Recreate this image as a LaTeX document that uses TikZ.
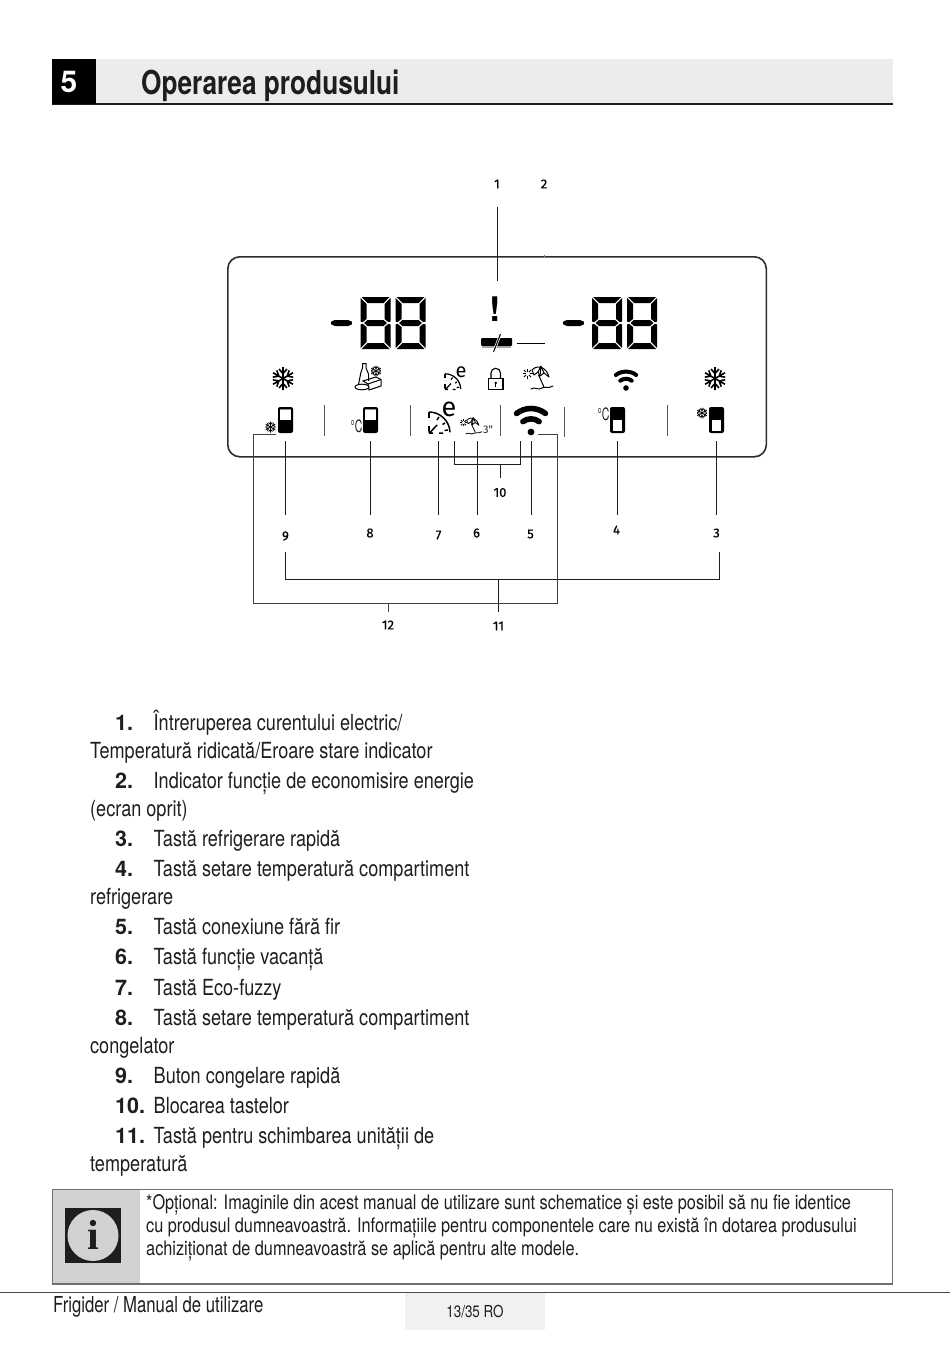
\documentclass[tikz,border=0pt]{standalone}
\usepackage{fontspec}
\setmainfont{TeX Gyre Heros}
\newfontfamily\condf[FakeStretch=0.815]{TeX Gyre Heros}
\newfontfamily\condg[FakeStretch=0.76]{TeX Gyre Heros}
\newfontfamily\condh[FakeStretch=0.795]{TeX Gyre Heros}
\newfontfamily\condi[FakeStretch=0.62]{TeX Gyre Heros}
\newfontfamily\wide{TeX Gyre Heros}
\newfontfamily\din[FakeBold=0.6]{Fira Sans}
\newfontfamily\dinr{Fira Sans}
\definecolor{band}{HTML}{ECECEC}
\definecolor{framec}{HTML}{2E2E2E}
\definecolor{notegray}{HTML}{D2D2D2}
\definecolor{notefr}{HTML}{707070}
\definecolor{pageb}{HTML}{F1F1F1}
\definecolor{ink}{HTML}{1E1E1E}
\tikzset{
 body/.style={anchor=base west,inner sep=0pt,font=\condf\fontsize{22.2}{24}\selectfont,text=ink},
 num/.style={anchor=base west,inner sep=0pt,font=\wide\bfseries\fontsize{21.5}{24}\selectfont,text=ink},
 notet/.style={anchor=base west,inner sep=0pt,font=\condf\fontsize{20}{22}\selectfont,text=ink},
 lab/.style={inner sep=0pt,font=\din\fontsize{13}{14}\selectfont,text=black},
 lead/.style={draw=ink,line width=1pt},
 sep/.style={draw=black!65,line width=1pt},
 small/.style={inner sep=0pt,font=\condi\fontsize{17}{18}\selectfont,text=ink}
}
\newcommand\SegDigit[2]{\begin{scope}[shift={(#1,#2)}]
 \fill[black] (1,0)--(29,0)--(23,6)--(7,6)--cycle;
 \fill[black] (1,52)--(29,52)--(23,46)--(7,46)--cycle;
 \fill[black] (3.5,26)--(7,23)--(23,23)--(26.5,26)--(23,29)--(7,29)--cycle;
 \fill[black] (0,1)--(6,7)--(6,22)--(2,25.2)--(0,24.5)--cycle;
 \fill[black] (0,51)--(6,45)--(6,30)--(2,26.8)--(0,27.5)--cycle;
 \fill[black] (30,1)--(24,7)--(24,22)--(28,25.2)--(30,24.5)--cycle;
 \fill[black] (30,51)--(24,45)--(24,30)--(28,26.8)--(30,27.5)--cycle;
\end{scope}}
\newcommand\Flake[4]{\begin{scope}[shift={(#1,#2)}]
 \foreach \a in {30,90,...,330}{
  \draw[black,line width=#4,rotate=\a,scale=#3] (0,0)--(1,0) (0.42,0)--(0.82,0.34) (0.42,0)--(0.82,-0.34);}
\end{scope}}
\newcommand\FridgeB[2]{\begin{scope}[shift={(#1,#2)}]
 \fill[black,rounded corners=2pt] (0,0) rectangle (15,26);
 \fill[white] (2.2,2.2) rectangle (12.8,12.5);
 \fill[black!45] (2.2,2.2) rectangle (12.8,3);
\end{scope}}
\newcommand\FridgeT[2]{\begin{scope}[shift={(#1,#2)}]
 \fill[black,rounded corners=2pt] (0,0) rectangle (15,26);
 \fill[white] (2.6,13) rectangle (12.4,23.8);
\end{scope}}
\newcommand\Wifi[5]{\begin{scope}[shift={(#1,#2)}]
 \fill[black] (0,0) circle (#5);
 \draw[black,line width=#4,line cap=round] (-52:#3) arc[start angle=-52,end angle=-128,radius=#3];
 \pgfmathsetmacro\rb{#3*0.56}
 \draw[black,line width=#4,line cap=round] (-52:\rb) arc[start angle=-52,end angle=-128,radius=\rb];
\end{scope}}
\newcommand\Clock[4]{\begin{scope}[shift={(#1,#2)},scale=#3]
 \draw[black,line width=#4] (0,-21) arc[start angle=-90,end angle=-2,radius=21];
 \draw[black,line width=#4] (0,-21)--(0,-15) (0,-7)--(0,-2);
 \draw[black,line width=#4] (0,0)--(4,0) (1,-0.5)--(8,-8) (0,-0.5)--(0,-5);
 \draw[black,line width=#4] (10,-16)--(8,-13) (16,-10)--(13.5,-8.5) (19,-3)--(15.5,-2.5) (10,0)--(14,0);
\end{scope}}
\newcommand\Umb[4]{\begin{scope}[shift={(#1,#2)},scale=#3]
 \draw[black,line width=#4,line join=round] (-6,-8) .. controls (1,-15) and (9,-9) .. (11,-1) -- (6,-5) -- (2,-2) -- (0,-6) -- (-4,-3) -- cycle;
 \draw[black,line width=#4] (3,-12)--(2,-2) (3,-12)--(0,-6) (3,-12)--(6,-5);
 \draw[black,line width=#4] (0.5,-3)--(6,9);
 \foreach \a in {0,45,...,315}{\draw[black,line width=#4] (-10.5,-4.5)+(\a:2)--+(\a:5);}
 \draw[black,line width=#4,line cap=round] (-7,11) .. controls (-3,8) and (0,13) .. (4,10) .. controls (7,8) and (10,11) .. (15,8);
\end{scope}}
\begin{document}
\begin{tikzpicture}[x=1pt,y=-1pt]
\useasboundingbox (0,0) rectangle (950,1348);
\fill[white] (0,0) rectangle (950,1348);
% header
\fill[band] (52,59) rectangle (893,103);
\fill[framec!60!black] (52,103) rectangle (893,105);
\fill[black] (52,59) rectangle (96,104);
\node[inner sep=0pt,text=white,font=\wide\bfseries\fontsize{30}{32}\selectfont] (chap) at (69,82) {5};
\node[anchor=base west,inner sep=0pt,text=ink,font=\condh\bfseries\fontsize{33}{34}\selectfont] (title) at (141,95) {Operarea produsului};
% panel
\node[draw=framec,line width=1.6pt,rounded corners=12pt,minimum width=538.5pt,minimum height=200pt,inner sep=0pt,anchor=north west] (panel) at (227,256) {};
\SegDigit{360.5}{297}\SegDigit{395.5}{297}
\fill[black,rounded corners=2pt] (330,323) -- (333,320) -- (350,320) -- (353,323) -- (350,326) -- (333,326) -- cycle;
\SegDigit{592}{297}\SegDigit{627}{297}
\fill[black,rounded corners=2pt] (562,323) -- (565,320) -- (582,320) -- (585,323) -- (582,326) -- (565,326) -- cycle;
\node[inner sep=0pt,text=black,font=\wide\bfseries\fontsize{34}{36}\selectfont] (excl) at (495.5,309) {!};
\fill[black,rounded corners=1pt] (481,338) rectangle (512,346);
\fill[black!35] (482,346) rectangle (511,347.5);
\draw[white,line width=2.4pt] (500.5,334)--(493.5,352);
\draw[black,line width=1pt] (500.5,334)--(493.5,352);
\draw[black,line width=1pt] (517,343)--(545,343);
% row 1 icons
\Flake{283}{378.5}{11.5}{1.6pt}
\Flake{715}{378.5}{11.5}{1.6pt}
\Flake{376}{371}{5.5}{0.8pt}
\draw[black,line width=1pt,line join=round] (358,387) -- (361,372) -- (362.5,368) -- (362.5,363.5) -- (366,363.5) -- (366,368) -- (368.5,374) -- (368.5,381);
\draw[black,line width=1pt,fill=white,line join=round] (368,384) -- (381,379.5) -- (381,386) -- (369,390) -- cycle;
\draw[black,line width=1pt] (368,384) -- (363,381) -- (376,377) -- (381,379.5);
\draw[black,line width=1pt,fill=white] (362,387) ellipse (7 and 2.8);
\Clock{445}{389.5}{0.75}{1.2pt}
\node[inner sep=0pt,text=black,font=\dinr\fontsize{20}{21}\selectfont] (e1) at (461,372) {e};
\draw[black,line width=1.1pt] (488.5,378.5) rectangle (503,389.5);
\draw[black,line width=1.1pt] (491,378.5) -- (491,373) arc[start angle=180,end angle=360,radius=4.75] -- (500.5,378.5);
\fill[black] (495.7,383) circle (1.4);
\fill[black] (495,383) rectangle (496.4,386.5);
\Umb{538}{378}{1}{1pt}
\Wifi{626}{388}{16.5}{4pt}{2.8}
% row 2 icons
\FridgeB{278}{407}
\Flake{270.5}{427}{5.5}{0.8pt}
\FridgeB{363}{407}
\node[small] (c1) at (356.5,426) {°C};
\Clock{429}{433}{1}{1.5pt}
\node[inner sep=0pt,text=black,font=\dinr\fontsize{27}{28}\selectfont] (e2) at (449,409.5) {e};
\Umb{471}{426}{0.72}{0.8pt}
\node[inner sep=0pt,font=\dinr\fontsize{11}{12}\selectfont,text=ink] (three) at (488,430) {3"};
\Wifi{531}{432}{23.5}{5.6pt}{3.4}
\FridgeT{610}{407}
\node[small] (c2) at (603.5,414) {°C};
\FridgeT{709}{407}
\Flake{702}{413}{5.5}{0.8pt}
% separators
\coordinate (s1a) at (324,405); \coordinate (s1b) at (324,436);
\coordinate (s2a) at (410,405); \coordinate (s2b) at (410,436);
\coordinate (s3a) at (500,405); \coordinate (s3b) at (500,436);
\coordinate (s4a) at (564,407); \coordinate (s4b) at (564,437);
\coordinate (s5a) at (667,405); \coordinate (s5b) at (667,436);
\foreach \k in {1,...,5}{\draw[sep] (s\k a)--(s\k b);}
% labels
\node[lab] (l1) at (497,184) {1};
\node[lab] (l2) at (544,184) {2};
\node[lab] (l3) at (716.5,533) {3};
\node[lab] (l4) at (616.5,530) {4};
\node[lab] (l5) at (530.5,534) {5};
\node[lab] (l6) at (476.5,533) {6};
\node[lab] (l7) at (438.5,535) {7};
\node[lab] (l8) at (370,533) {8};
\node[lab] (l9) at (285.5,536) {9};
\node[lab] (l10) at (500,492.5) {10};
\node[lab] (l11) at (498.5,626) {11};
\node[lab] (l12) at (388,625) {12};
% leaders
\coordinate (a1) at (497,207); \coordinate (b1) at (497,281);
\draw[lead] (a1)--(b1);
\coordinate (a2) at (544,254.5); \coordinate (b2) at (544,258);
\draw[draw=black!50,line width=.8pt] (a2)--(b2);
\foreach \k/\x in {3/716,4/617,5/531,6/477,7/438.7,8/370,9/285.5}{
 \coordinate (a\k) at (\x,441); \coordinate (b\k) at (\x,515);
 \draw[lead] (a\k)--(b\k);}
% bracket 10
\coordinate (p10a) at (454,441); \coordinate (p10b) at (454,464); \coordinate (p10c) at (520,464); \coordinate (p10d) at (520,441); \coordinate (p10s) at (500,464); \coordinate (p10e) at (500,478);
\draw[lead] (p10a)--(p10b)--(p10c)--(p10d) (p10s)--(p10e);
% bracket 11
\coordinate (p11a) at (285.5,552); \coordinate (p11b) at (285.5,579); \coordinate (p11c) at (719,579); \coordinate (p11d) at (719,552); \coordinate (p11s) at (498,579); \coordinate (p11e) at (498,612);
\draw[lead] (p11a)--(p11b)--(p11c)--(p11d) (p11s)--(p11e);
% bracket 12
\coordinate (p12a) at (276,434); \coordinate (p12b) at (253,434); \coordinate (p12c) at (253,603); \coordinate (p12d) at (557,603); \coordinate (p12e) at (557,434); \coordinate (p12f) at (538,434); \coordinate (p12s) at (388,603); \coordinate (p12t) at (388,612);
\draw[lead,draw=black!75] (p12a)--(p12b)--(p12c)--(p12d)--(p12e)--(p12f) (p12s)--(p12t);
% list
\node[num] (n1) at (115,730) {1.};
\node[body] (t1) at (153.5,730) {Întreruperea curentului electric/};
\node[body] (t1b) at (90,758) {Temperatură ridicată/Eroare stare indicator};
\node[num] (n2) at (115,788) {2.};
\node[body] (t2) at (153.5,788) {Indicator funcție de economisire energie};
\node[body] (t2b) at (90,816) {(ecran oprit)};
\node[num] (n3) at (115,846) {3.};
\node[body] (t3) at (153.5,846) {Tastă refrigerare rapidă};
\node[num] (n4) at (115,876) {4.};
\node[body] (t4) at (153.5,876) {Tastă setare temperatură compartiment};
\node[body] (t4b) at (90,904) {refrigerare};
\node[num] (n5) at (115,934) {5.};
\node[body] (t5) at (153.5,934) {Tastă conexiune fără fir};
\node[num] (n6) at (115,964) {6.};
\node[body] (t6) at (153.5,964) {Tastă funcție vacanță};
\node[num] (n7) at (115,995) {7.};
\node[body] (t7) at (153.5,995) {Tastă Eco-fuzzy};
\node[num] (n8) at (115,1025) {8.};
\node[body] (t8) at (153.5,1025) {Tastă setare temperatură compartiment};
\node[body] (t8b) at (90,1053) {congelator};
\node[num] (n9) at (115,1083) {9.};
\node[body] (t9) at (153.5,1083) {Buton congelare rapidă};
\node[num] (n10) at (115,1113) {10.};
\node[body] (t10) at (153.5,1113) {Blocarea tastelor};
\node[num] (n11) at (115,1143) {11.};
\node[body] (t11) at (153.5,1143) {Tastă pentru schimbarea unității de};
\node[body] (t11b) at (90,1171) {temperatură};
% note
\fill[notegray] (52,1189) rectangle (140,1284);
\draw[notefr,line width=1.2pt] (52.5,1189.5) rectangle (892.5,1284);
\fill[ink] (65,1208) rectangle (121,1263);
\fill[notegray] (93,1235.5) circle (25.5);
\node[inner sep=0pt,text=ink,font=\fontsize{42}{42}\selectfont\bfseries] (info) at (93,1235) {\fontspec{Liberation Serif}i};
\node[notet] (nt1) at (146,1209) {*Opțional: Imaginile din acest manual de utilizare sunt schematice și este posibil să nu fie identice};
\node[notet] (nt2) at (146,1232) {cu produsul dumneavoastră. Informațiile pentru componentele care nu există în dotarea produsului};
\node[notet] (nt3) at (146,1255) {achiziționat de dumneavoastră se aplică pentru alte modele.};
% footer
\fill[pageb] (405,1293) rectangle (545,1330);
\draw[black!70,line width=1pt] (0,1292.5)--(950,1292.5);
\node[anchor=base west,inner sep=0pt,text=ink,font=\condg\fontsize{22}{24}\selectfont] (foot) at (53,1312) {Frigider / Manual de utilizare};
\node[inner sep=0pt,text=ink,font=\condf\fontsize{16.5}{18}\selectfont] (page) at (475,1311) {13/35 RO};
\end{tikzpicture}
\end{document}
